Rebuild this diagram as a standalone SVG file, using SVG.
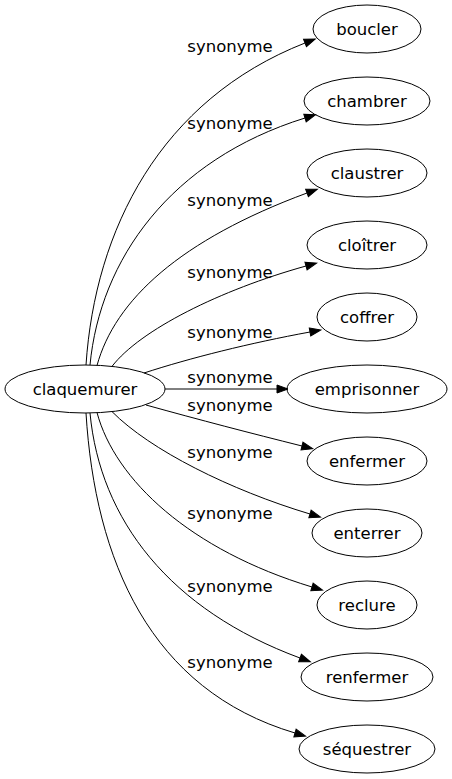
<svg xmlns="http://www.w3.org/2000/svg" width="452" height="779" viewBox="0 0 452 779">
<defs>
<marker id="ah" markerUnits="userSpaceOnUse" markerWidth="12" markerHeight="10" refX="0" refY="4" orient="auto" viewBox="0 0 12 8" overflow="visible">
<path d="M0,0 L11,4 L0,8 Z" fill="#000" stroke="#000" stroke-width="1"/>
</marker>
</defs>
<style>
.n ellipse{fill:none;stroke:#000;stroke-width:1}
text{font-family:"DejaVu Sans",sans-serif;font-size:16.5px;fill:#000;text-anchor:middle}
.e path{fill:none;stroke:#000;stroke-width:1;marker-end:url(#ah)}
</style>
<rect width="452" height="779" fill="#fff"/>
<g id="edges" class="e">
<path d="M86,365 C95,230 160,100 305,43"/>
<path d="M90,365 C100,260 170,160 305,118"/>
<path d="M97,365.5 C115,300 180,240 307,193"/>
<path d="M112,366.4 C140,330 220,290 306,266"/>
<path d="M144,373 C190,358 250,343 310,332"/>
<path d="M165,389 L277,389"/>
<path d="M146,405 C200,420 250,433 302,446"/>
<path d="M112,411.6 C150,450 230,490 310,514"/>
<path d="M97,412.5 C115,480 190,550 312,587"/>
<path d="M90,413 C100,520 170,610 300,658"/>
<path d="M86,413 C95,560 150,690 295,733"/>
</g>
<g id="edge-labels">
<text x="230" y="52">synonyme</text>
<text x="230" y="129">synonyme</text>
<text x="230" y="206">synonyme</text>
<text x="230" y="278">synonyme</text>
<text x="230" y="338">synonyme</text>
<text x="230" y="383">synonyme</text>
<text x="230" y="411">synonyme</text>
<text x="230" y="458">synonyme</text>
<text x="230" y="519">synonyme</text>
<text x="230" y="592">synonyme</text>
<text x="230" y="668">synonyme</text>
</g>
<g id="claquemurer" class="n"><ellipse cx="85" cy="389" rx="80" ry="24"/><text x="85" y="395">claquemurer</text></g>
<g id="boucler" class="n"><ellipse cx="367" cy="29" rx="54" ry="24"/><text x="367" y="35">boucler</text></g>
<g id="chambrer" class="n"><ellipse cx="367" cy="101" rx="63" ry="24"/><text x="367" y="107">chambrer</text></g>
<g id="claustrer" class="n"><ellipse cx="367" cy="173" rx="60" ry="24"/><text x="367" y="179">claustrer</text></g>
<g id="cloitrer" class="n"><ellipse cx="367" cy="245" rx="60" ry="24"/><text x="367" y="251">cloîtrer</text></g>
<g id="coffrer" class="n"><ellipse cx="367" cy="317" rx="50" ry="24"/><text x="367" y="323">coffrer</text></g>
<g id="emprisonner" class="n"><ellipse cx="367" cy="389" rx="80" ry="24"/><text x="367" y="395">emprisonner</text></g>
<g id="enfermer" class="n"><ellipse cx="367" cy="461" rx="60" ry="24"/><text x="367" y="467">enfermer</text></g>
<g id="enterrer" class="n"><ellipse cx="367" cy="533" rx="55" ry="24"/><text x="367" y="539">enterrer</text></g>
<g id="reclure" class="n"><ellipse cx="367" cy="605" rx="50" ry="24"/><text x="367" y="611">reclure</text></g>
<g id="renfermer" class="n"><ellipse cx="367" cy="677" rx="66" ry="24"/><text x="367" y="683">renfermer</text></g>
<g id="sequestrer" class="n"><ellipse cx="367" cy="749" rx="68" ry="24"/><text x="367" y="755">séquestrer</text></g>
</svg>
